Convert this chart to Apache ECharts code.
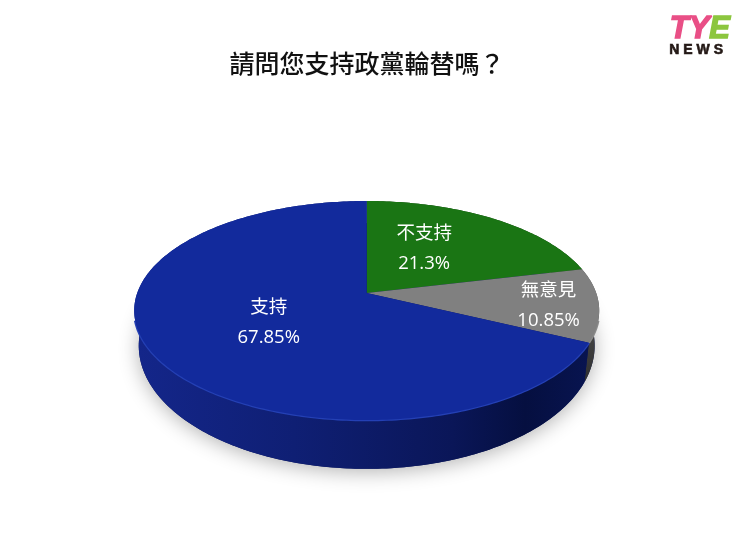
<!DOCTYPE html>
<html>
<head>
<meta charset="utf-8">
<style>html,body{margin:0;padding:0;background:#fff}#c{width:740px;height:548px}</style>
<script src="https://cdn.jsdelivr.net/npm/echarts@6/dist/echarts.min.js"></script>
</head>
<body>
<div id="c"></div>
<script>
var titleText = '請問您支持政黨輪替嗎？';
var categories = ['不支持', '無意見', '支持'];
var shares = [21.3, 10.85, 67.85];
var shareLabels = ['21.3%', '10.85%', '67.85%'];
var topColors = ['#1a7514', '#808080', '#122a9c'];

// Label anchors, expressed on the unit disc (before projection).
var labelDisc = [[0.268, -0.44], [0.778, 0.115], [-0.4085, 0.27]];

// Perspective projection of the unit disc on the screen.
var topDisc = { cx: 366.7, cy: 293, a: 229.5, b: 106.7, p: 0.16 };
var baseDisc = { cx: 366.7, cy: 326, a: 225, b: 120, p: 0.16 };

function project(d, X, Z) {
  var w = 1 - d.p * Z;
  return [d.cx + d.a * X / w, d.cy + d.b * Z / w];
}
function onRim(d, t) {
  return project(d, Math.sin(t), -Math.cos(t));
}
var total = shares.reduce(function (s, v) { return s + v; }, 0);
function sliceRange(i) {
  var before = 0;
  for (var k = 0; k < i; k++) before += shares[k];
  return [before / total * 2 * Math.PI, (before + shares[i]) / total * 2 * Math.PI];
}
function arc(d, t0, t1) {
  var n = Math.max(4, Math.ceil((t1 - t0) * 60)), pts = [];
  for (var k = 0; k <= n; k++) pts.push(onRim(d, t0 + (t1 - t0) * k / n));
  return pts;
}
var sideFills = [
  '#123f10',
  new echarts.graphic.LinearGradient(0, 0, 0, 1, [
    { offset: 0, color: '#5a5a5a' }, { offset: 1, color: '#303030' }
  ]),
  new echarts.graphic.LinearGradient(0, 0, 1, 0, [
    { offset: 0, color: '#14268a' }, { offset: 0.35, color: '#0f1f74' },
    { offset: 0.7, color: '#0a1658' }, { offset: 0.86, color: '#050f40' },
    { offset: 1, color: '#081450' }
  ])
];
var rimHighlight = ['#1a7514', '#8a8a8a', '#2440b4'];

var chartData = shares.map(function (v, i) { return { name: categories[i], value: v }; });

var chart = echarts.init(document.getElementById('c'), null, { renderer: 'canvas' });
chart.setOption({
  animation: false,
  backgroundColor: '#ffffff',
  title: {
    text: titleText, left: 362, top: 46, textAlign: 'center',
    textStyle: { fontFamily: '"Noto Sans CJK TC"', fontSize: 25, fontWeight: 500, color: '#111111' }
  },
  graphic: [
    {
      type: 'text', left: 669, top: 13, z: 10,
      style: {
        text: '{a|TY}{b|E}',
        rich: {
          a: { fontFamily: '"Liberation Sans"', fontStyle: 'italic', fontWeight: 'bold', fontSize: 31, fill: '#e94f86', stroke: '#e94f86', lineWidth: 1.5 },
          b: { fontFamily: '"Liberation Sans"', fontStyle: 'italic', fontWeight: 'bold', fontSize: 31, fill: '#8cc63f', stroke: '#8cc63f', lineWidth: 1.5 }
        }
      }
    },
    {
      type: 'text', left: 669, top: 43, z: 10,
      style: { text: 'N E W S', fontFamily: '"Liberation Sans"', fontWeight: 'bold', fontSize: 14, fill: '#231815', stroke: '#231815', lineWidth: 0.6 }
    }
  ],
  series: [
    {
      type: 'custom', coordinateSystem: 'none', silent: true, z: 1, data: [0],
      renderItem: function () {
        return {
          type: 'polygon', shape: { points: arc(baseDisc, 0, 2 * Math.PI) },
          style: { fill: '#0a1658', shadowBlur: 20, shadowColor: 'rgba(0,0,0,0.3)', shadowOffsetY: 3 }
        };
      }
    },
    {
      type: 'custom', coordinateSystem: 'none', silent: true, z: 2, data: chartData,
      renderItem: function (params) {
        var i = params.dataIndex, r = sliceRange(i);
        var outer = arc(topDisc, r[0], r[1]);
        var lower = arc(baseDisc, r[0], r[1]).reverse();
        return { type: 'polygon', shape: { points: outer.concat(lower) }, style: { fill: sideFills[i] } };
      }
    },
    {
      type: 'custom', coordinateSystem: 'none', silent: true, z: 3, data: chartData,
      renderItem: function (params) {
        var i = params.dataIndex, r = sliceRange(i);
        var apex = project(topDisc, 0, 0);
        var lab = project(topDisc, labelDisc[i][0], labelDisc[i][1]);
        // The lit edge only shows where the rim faces the viewer.
        var edgeFrom = Math.max(r[0], 0.58 * Math.PI), edgeTo = Math.min(r[1], 1.42 * Math.PI);
        var children = [
          { type: 'polygon', z2: 3, shape: { points: [apex].concat(arc(topDisc, r[0], r[1])) },
            style: { fill: topColors[i] } },
          { type: 'text', z2: 5, x: lab[0], y: lab[1],
            style: {
              text: categories[i] + '\n' + shareLabels[i], align: 'center', verticalAlign: 'middle',
              fontFamily: '"Open Sans","Noto Sans CJK TC"', fontSize: 18.5, lineHeight: 30, fill: '#ffffff'
            } }
        ];
        if (edgeTo > edgeFrom) {
          children.unshift({ type: 'polyline', z2: 2, shape: { points: arc(topDisc, edgeFrom, edgeTo) },
            style: { fill: null, stroke: rimHighlight[i], lineWidth: 2.5 } });
        }
        return { type: 'group', children: children };
      }
    }
  ]
});
</script>
</body>
</html>
